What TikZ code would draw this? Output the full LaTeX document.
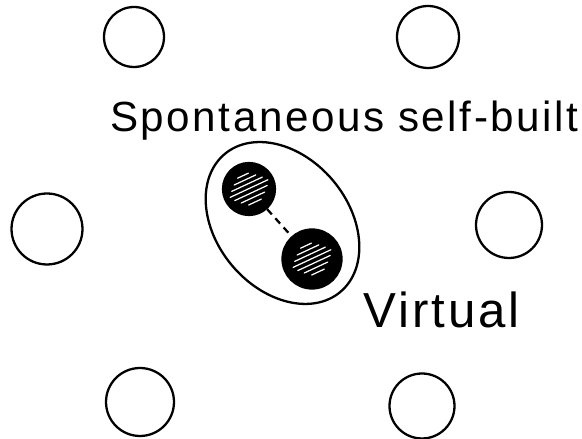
\documentclass[tikz,border=0pt]{standalone}
\usepackage{fontspec}
\setmainfont{Liberation Sans}
\newfontfamily\inkface[LetterSpace=6]{Liberation Sans}
\usetikzlibrary{calc,shapes.geometric}
\tikzset{
  ring/.style={draw=black,line width=1.3pt,circle,inner sep=0pt},
  inkfont/.style={font=\inkface\fontsize{#1}{#1}\selectfont}
}
\newcommand{\hatchdot}[4]{%
  \node[draw=black,fill=black,line width=1.3pt,circle,inner sep=0pt,
        minimum size=#4 cm] (#1) at (#2,#3) {};
  \foreach \k/\l in {-3/14,-2/26,-1/36,0/42,1/34,2/24,3/12} {
    \draw[white,line width=0.7pt,line cap=round]
      ($(#1)+(-0.45*\l,-0.2*\l)+(-2*\k,4.4*\k)$) -- ++(0.9*\l,0.42*\l);
  }
}

\begin{document}
\begin{tikzpicture}[x=0.02cm,y=0.02cm]
  \useasboundingbox (0,0) rectangle (582,439);
  \foreach \nm/\px/\py/\d in {tl/134/402/1.20, tr/428/402/1.24, ml/47/210/1.42,
                              mr/509/214/1.32, bl/140/37/1.36, br/422/33/1.30} {
    \node[ring,minimum size=\d cm] (\nm) at (\px,\py) {};
  }
  \node[draw=black,ellipse,line width=1.3pt,minimum width=3.6cm,minimum height=2.64cm,
        rotate=-50] (grp) at (282.5,216) {};
  \hatchdot{dota}{249}{250}{1.04}
  \hatchdot{dotb}{312}{180}{1.18}
  \draw[line width=1.3pt,dash pattern=on 4pt off 3pt] (dota) -- (dotb);
  \node[anchor=base west,inkfont=24pt,inner sep=0pt] (spont) at (110,307) {Spontaneous self-built};
  \node[anchor=base west,inkfont=28pt,inner sep=0pt] (virt) at (363,111) {Virtual};
\end{tikzpicture}
\end{document}
